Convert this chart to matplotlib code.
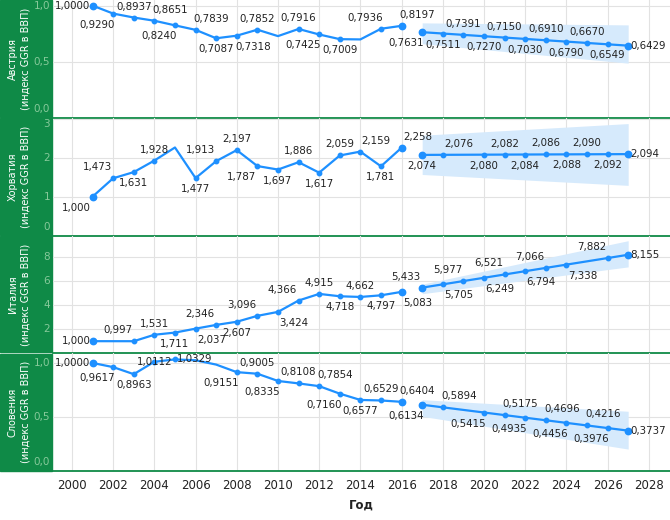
import matplotlib
matplotlib.use("Agg")
import matplotlib.pyplot as plt
from matplotlib.patches import Rectangle

# --- данные ---
hist_years = list(range(2001, 2017))
fc_years = list(range(2017, 2028))
band_years = [2017, 2027]

aut_hist = [1.0000, 0.9290, 0.8937, 0.8651, 0.8240, 0.7839, 0.7087, 0.7318,
            0.7852, 0.7280, 0.7916, 0.7425, 0.7009, 0.6985, 0.7936, 0.8197]
aut_fc = [0.7631, 0.7511, 0.7391, 0.7270, 0.7150, 0.7030, 0.6910, 0.6790,
          0.6670, 0.6549, 0.6429]
aut_band_lo = [0.66, 0.487]
aut_band_hi = [0.846, 0.828]

hrv_hist = [1.000, 1.473, 1.631, 1.928, 2.265, 1.477, 1.913, 2.197,
            1.787, 1.697, 1.886, 1.617, 2.059, 2.159, 1.781, 2.258]
hrv_fc = [2.074, 2.076, 2.078, 2.080, 2.082, 2.084, 2.086, 2.088,
          2.090, 2.092, 2.094]
hrv_band_lo = [1.57, 1.29]
hrv_band_hi = [2.58, 2.88]

ita_hist_years = [2001] + list(range(2003, 2017))
ita_hist = [1.000, 0.997, 1.531, 1.711, 2.037, 2.346, 2.607, 3.096,
            3.424, 4.366, 4.915, 4.718, 4.662, 4.797, 5.083]
ita_fc = [5.433, 5.705, 5.977, 6.249, 6.521, 6.794, 7.066, 7.338,
          7.610, 7.882, 8.155]
ita_band_lo = [4.93, 7.15]
ita_band_hi = [5.72, 9.32]

svn_hist = [1.0000, 0.9617, 0.8963, 1.0112, 1.0329, 1.0250, 0.9850, 0.9151,
            0.9005, 0.8335, 0.8108, 0.7854, 0.7160, 0.6577, 0.6529, 0.6404]
svn_fc = [0.6134, 0.5894, 0.5655, 0.5415, 0.5175, 0.4935, 0.4696, 0.4456,
          0.4216, 0.3976, 0.3737]
svn_band_lo = [0.506, 0.203]
svn_band_hi = [0.66, 0.553]

# --- положение подписей (None = без подписи и маркера) ---
aut_hist_pos = ['l', 'bl', 'a', 'ar', 'bl', 'ar', 'b', 'br', 'a', None, 'a', 'bl', 'b', None, 'al', 'ar']
aut_fc_pos = ['bl', 'b', 'a', 'b', 'a', 'b', 'a', 'b', 'a', 'b', 'r']
hrv_hist_pos = ['bl', 'al', 'b', 'a', None, 'b', 'al', 'a', 'bl', 'b', 'a', 'b', 'a', 'ar', 'b', 'ar']
hrv_fc_pos = ['b', 'ar', None, 'b', 'a', 'b', 'a', 'b', 'a', 'b', 'r']
ita_hist_pos = ['l', 'al', 'a', 'b', 'br', 'al', 'b', 'al', 'br', 'al', 'a', 'b', 'a', 'b', 'br']
ita_fc_pos = ['al', 'br', 'al', 'br', 'al', 'br', 'al', 'br', None, 'al', 'r']
svn_hist_pos = ['l', 'bl', 'b', 'c', 'r', None, None, 'bl', 'a', 'bl', 'a', 'ar', 'bl', 'b', 'a', 'ar']
svn_fc_pos = ['bl', 'ar', None, 'bl', 'ar', 'bl', 'ar', 'bl', 'ar', 'bl', 'r']

panels = [
    dict(name="Австрия", hy=hist_years, h=aut_hist, f=aut_fc, lo=aut_band_lo, hi=aut_band_hi,
         hp=aut_hist_pos, fp=aut_fc_pos, dec=4, ylim=(0, 1.05),
         ticks=[0, 0.5, 1.0], tl=["0,0", "0,5", "1,0"]),
    dict(name="Хорватия", hy=hist_years, h=hrv_hist, f=hrv_fc, lo=hrv_band_lo, hi=hrv_band_hi,
         hp=hrv_hist_pos, fp=hrv_fc_pos, dec=3, ylim=(0, 3.03),
         ticks=[0, 1, 2, 3], tl=["0", "1", "2", "3"]),
    dict(name="Италия", hy=ita_hist_years, h=ita_hist, f=ita_fc, lo=ita_band_lo, hi=ita_band_hi,
         hp=ita_hist_pos, fp=ita_fc_pos, dec=3, ylim=(0, 9.75),
         ticks=[0, 2, 4, 6, 8], tl=["", "2", "4", "6", "8"]),
    dict(name="Словения", hy=hist_years, h=svn_hist, f=svn_fc, lo=svn_band_lo, hi=svn_band_hi,
         hp=svn_hist_pos, fp=svn_fc_pos, dec=4, ylim=(0, 1.09),
         ticks=[0, 0.5, 1.0], tl=["0,0", "0,5", "1,0"]),
]

GREEN = '#0f8a47'
TICK_GREEN = '#86c99a'
BLUE = '#1e90ff'
BAND = '#d6eafc'
TXT = '#222222'

offsets = {
    'a': (0, 11, 'center'), 'b': (0, -11, 'center'),
    'al': (-16, 11, 'center'), 'ar': (16, 11, 'center'),
    'bl': (-16, -11, 'center'), 'br': (16, -11, 'center'),
    'l': (-2, 0, 'right'), 'r': (2, 0, 'left'), 'c': (0, 0, 'center'),
}

W, H = 670, 520
fig = plt.figure(figsize=(6.7, 5.2), dpi=100)
left = 53 / W
ph = (471 / H) / 4


def draw_series(ax, years, vals, pos, dec):
    ax.plot(years, vals, color=BLUE, lw=1.6, zorder=3, solid_capstyle='round')
    mx = [y for y, p in zip(years, pos) if p is not None]
    my = [v for v, p in zip(vals, pos) if p is not None]
    ax.plot(mx, my, 'o', color=BLUE, ms=3.2, zorder=4)
    ax.plot([years[0], years[-1]], [vals[0], vals[-1]], 'o', color=BLUE, ms=4.6, zorder=4)
    for y, v, p in zip(years, vals, pos):
        if p is None:
            continue
        dx, dy, ha = offsets[p]
        txt = f"{v:.{dec}f}".replace('.', ',')
        ax.annotate(txt, xy=(y, v), xytext=(dx, dy), textcoords='offset pixels',
                    ha=ha, va='center', fontsize=7.4, color=TXT, zorder=5,
                    annotation_clip=False)


axes = []
for i, p in enumerate(panels):
    y0 = 1 - (i + 1) * ph
    ax = fig.add_axes([left, y0, 1 - left, ph])
    ax.patch.set_visible(False)
    axes.append(ax)

    # зелёная плашка слева
    fig.patches.append(Rectangle((0, y0 + (1 / H if i < 3 else 0)), 52 / W, ph - 1 / H,
                                 transform=fig.transFigure, color=GREEN, zorder=-1))
    fig.text(19 / W, y0 + ph / 2, p['name'] + "\n(индекс GGR в ВВП)", rotation=90,
             color='white', fontsize=7, ha='center', va='center',
             multialignment='center', linespacing=1.3)

    ax.fill_between(band_years, p['lo'], p['hi'], color=BAND, lw=0, zorder=1)
    draw_series(ax, p['hy'], p['h'], p['hp'], p['dec'])
    draw_series(ax, fc_years, p['f'], p['fp'], p['dec'])

    ax.set_xlim(1999.08, 2029.03)
    ax.set_ylim(*p['ylim'])
    ax.set_xticks(range(2000, 2029, 2))
    ax.set_yticks(p['ticks'])
    ax.grid(color='#e2e2e2', lw=0.8, zorder=0)
    ax.set_axisbelow(True)
    for s in ['top', 'right', 'left']:
        ax.spines[s].set_visible(False)
    ax.spines['bottom'].set_color(GREEN)
    ax.spines['bottom'].set_linewidth(1.3)
    ax.spines['bottom'].set_zorder(6)
    ax.tick_params(axis='y', length=0, labelleft=False)
    ax.tick_params(axis='x', length=0, labelsize=8.5, pad=6, labelcolor=TXT)
    if i < 3:
        ax.tick_params(axis='x', labelbottom=False)

    # подписи оси Y внутри зелёной плашки
    for t, lab in zip(p['ticks'], p['tl']):
        dy = 0
        if t == 0:
            dy = 9
        elif p['name'] == "Хорватия" and t == 3:
            dy = -5
        ax.annotate(lab, xy=(0, t), xycoords=('axes fraction', 'data'),
                    xytext=(-3, dy), textcoords='offset pixels', ha='right', va='center',
                    fontsize=7.5, color=TICK_GREEN, annotation_clip=False, zorder=6)

fig.text(361 / W, 1 - 505 / H, "Год", ha='center', va='center', fontsize=8.5,
         fontweight='bold', color=TXT)

fig.savefig("out.png", dpi=100)
